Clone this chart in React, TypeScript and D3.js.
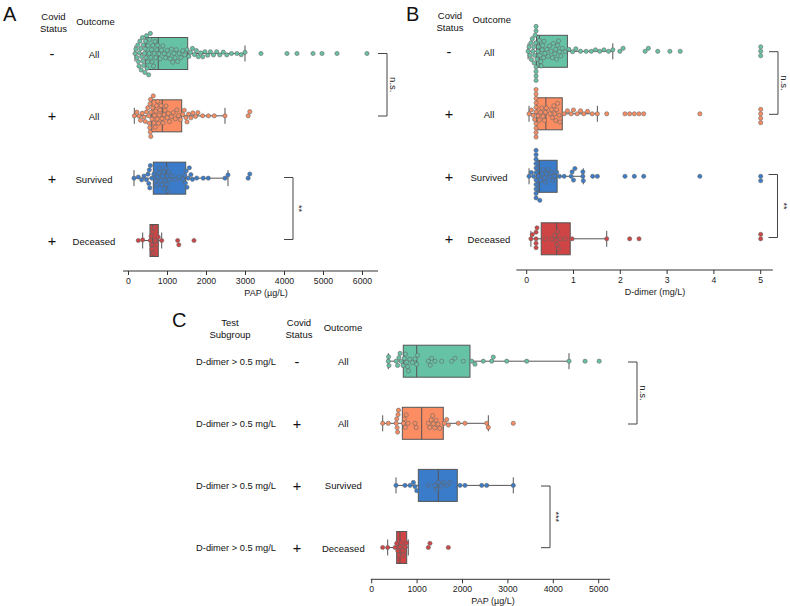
import React from 'react';
import * as d3 from 'd3';

// ---------- shared labels ----------
const rowKeys = ['negAll', 'posAll', 'posSurv', 'posDec'];
const rowSigns = ['-', '+', '+', '+'];
const rowOutcomes = ['All', 'All', 'Survived', 'Deceased'];
const rowColors = ['#66c2a5', '#fc8d62', '#3a7cc9', '#cf4545'];
const subgroupLabel = 'D-dimer > 0.5 mg/L';

// ---------- Panel A: PAP (µg/L) ----------
const papNegAll = [
  167, 190, 215, 238, 255, 268, 280, 292, 315, 326, 337, 358, 368, 378, 388, 410, 420, 430, 438,
  448, 462, 475, 490, 503, 517, 530, 545, 560, 575, 590, 606, 622, 640, 660, 680, 700, 725, 750,
  780, 810, 845, 880, 915, 950, 990, 1030, 1065, 1100, 1135, 1165, 1195, 1225, 1260, 1300, 1345, 1390, 1440, 1500,
  1545, 1590, 1640, 1690, 1740, 1790, 1850, 1905, 1960, 2030, 2100, 2180, 2260, 2340, 2430, 2520, 2640, 2780, 2890, 2987,
  3397, 4064, 4320, 4731, 4962, 5346, 6115,
];
const papPosAll = [
  149, 215, 268, 310, 352, 398, 430, 462, 495,
  520, 535, 545, 552, 558, 565, 572, 580,
  600, 618, 635, 652, 668, 685, 700, 718, 735, 752, 770, 790, 810, 835, 860, 885, 910, 935, 960, 990, 1020, 1050,
  1100, 1150, 1200, 1240, 1280, 1330,
  1390, 1430, 1470, 1500, 1540, 1600, 1650, 1720, 1780, 1900, 2050, 2200, 2474,
  3068, 3110,
];
const papPosSurv = [
  141, 251, 338, 397, 460, 500, 520, 533, 545, 560, 600,
  650, 690, 725, 750, 775, 800, 825, 850, 875, 900, 920, 940, 960, 975, 990, 1010, 1030, 1055,
  1120, 1200, 1300, 1400,
  1445, 1460, 1480, 1500, 1530, 1560, 1600, 1640,
  1749, 1918, 2046, 2474, 2551,
  3068, 3110,
];
const papPosDec = [251, 364, 560, 580, 595, 600, 610, 640, 660, 690, 720, 764, 851, 1260, 1290, 1679];
// [whisker low, Q1, median, Q3, whisker high]
const papStats = [
  [167, 441, 764, 1518, 2987],
  [149, 595, 867, 1364, 2474],
  [141, 636, 979, 1467, 2551],
  [364, 551, 620, 764, 851],
];
const papTicksA = [0, 1000, 2000, 3000, 4000, 5000, 6000];

// ---------- Panel B: D-dimer (mg/L) ----------
const ddNegAll = [
  0.03, 0.05, 0.07, 0.09, 0.1, 0.12, 0.13, 0.15, 0.16, 0.17, 0.18, 0.19,
  0.2, 0.2, 0.2, 0.2, 0.2, 0.2,
  0.22, 0.24, 0.25, 0.27, 0.28, 0.3, 0.31, 0.33, 0.34, 0.36, 0.37, 0.39,
  0.43, 0.46, 0.49, 0.52, 0.55, 0.57, 0.6, 0.62, 0.64, 0.66, 0.68, 0.7, 0.73, 0.76,
  0.82, 0.9, 0.98, 1.05, 1.15, 1.27, 1.38, 1.47, 1.56, 1.65, 1.75, 1.84,
  1.99, 2.06, 2.53, 2.6, 2.8, 3.06, 3.28, 5, 5, 5,
];
const ddPosAll = [
  0.05, 0.1, 0.14, 0.17,
  0.2, 0.2, 0.2, 0.2, 0.2, 0.2, 0.2, 0.2, 0.2, 0.2,
  0.24, 0.27, 0.3, 0.32, 0.35, 0.38, 0.4, 0.42,
  0.5, 0.53, 0.55, 0.58, 0.6, 0.62, 0.64, 0.66, 0.69, 0.71,
  0.8, 0.87, 0.95, 1.0, 1.08, 1.15, 1.22, 1.3, 1.4, 1.51,
  1.71, 2.1, 2.2, 2.3, 2.4, 2.5, 3.7, 5, 5, 5, 5,
];
const ddPosSurv = [
  0.05, 0.1, 0.15,
  0.2, 0.2, 0.2, 0.2, 0.2, 0.2, 0.2, 0.2, 0.2, 0.2, 0.2,
  0.25, 0.28, 0.3, 0.33, 0.35, 0.38, 0.4, 0.43, 0.46, 0.5, 0.53, 0.56, 0.6, 0.64,
  0.7, 0.8, 0.95, 0.97, 1.0, 1.03, 1.2, 1.2, 1.21,
  1.41, 1.51, 2.1, 2.3, 2.5, 3.7, 5, 5,
];
const ddPosDec = [0.09, 0.12, 0.2, 0.2, 0.2, 0.2, 0.22, 0.4, 0.54, 0.6, 0.63, 0.65, 0.66, 0.68, 0.72, 0.82, 0.97, 1.71, 2.2, 2.4, 5, 5];
const ddStats = [
  [0.03, 0.21, 0.27, 0.87, 1.84],
  [0.05, 0.21, 0.41, 0.76, 1.51],
  [0.05, 0.21, 0.27, 0.65, 1.21],
  [0.09, 0.31, 0.64, 0.93, 1.71],
];
const ddTicks = [0, 1, 2, 3, 4, 5];

// ---------- Panel C: PAP, D-dimer > 0.5 subgroup ----------
const papCNegAll = [
  366, 372, 380, 540, 570, 600, 625, 650, 690, 720, 745, 770, 790, 810, 840, 900, 955, 991, 1010,
  1247, 1290, 1321, 1394, 1542, 1762, 1835, 2018, 2203, 2275, 2458, 2643, 2679, 2974, 3414, 4346, 4700, 5010,
];
const papCPosAll = [
  242, 366, 540, 552, 560, 570, 580, 590, 700, 720, 740, 760, 800, 954, 980,
  1247, 1280, 1310, 1340, 1360, 1390, 1420, 1460, 1500, 1600, 1652, 1690, 1908, 2055, 2533, 2569, 3119,
];
const papCPosSurv = [535, 734, 845, 918, 954, 991, 1247, 1394, 1430, 1467, 1520, 1577, 1652, 1725, 1945, 2055, 2423, 2533, 3119];
const papCPosDec = [242, 352, 513, 550, 575, 600, 623, 650, 680, 700, 740, 771, 1247, 1283, 1688];
const papCStats = [
  [366, 696, 991, 2165, 4346],
  [242, 675, 1101, 1577, 2569],
  [535, 1027, 1467, 1885, 3119],
  [352, 550, 623, 771, 806],
];
const papTicksC = [0, 1000, 2000, 3000, 4000, 5000];

const FONT = '"Liberation Sans", Arial, Helvetica, sans-serif';
const R = 2.1;

function swarm(values: number[], x: (v: number) => number, r: number) {
  const d = 2 * r + 0.25;
  const pts = values.map((v) => ({ v, x: x(v), y: 0 })).sort((a, b) => a.x - b.x);
  const placed: { x: number; y: number }[] = [];
  pts.forEach((p, i) => {
    const near = placed.filter((q) => Math.abs(q.x - p.x) < d);
    const cands = [0];
    near.forEach((q) => {
      const dy = Math.sqrt(d * d - (q.x - p.x) ** 2);
      cands.push(q.y + dy, q.y - dy);
    });
    cands.sort((a, b) => Math.abs(a) - Math.abs(b) || (i % 2 ? a - b : b - a));
    for (const c of cands) {
      if (near.every((q) => (q.x - p.x) ** 2 + (q.y - c) ** 2 >= d * d - 1e-6)) {
        p.y = c;
        break;
      }
    }
    placed.push(p);
  });
  return pts;
}

type PanelProps = {
  data: number[][];
  stats: number[][];
  domain: [number, number];
  range: [number, number];
  rowRange: [number, number];
  axisY: number;
  axisExtent: [number, number];
  ticks: number[];
  axisLabel: string;
  axisLabelX: number;
};

function BoxSwarm(p: PanelProps) {
  const x = d3.scaleLinear().domain(p.domain).range(p.range);
  const y = d3.scalePoint<string>().domain(rowKeys).range(p.rowRange);
  const bh = 32;
  const fmt = d3.format('d');
  return (
    <g>
      {rowKeys.map((k, i) => {
        const [wl, q1, med, q3, wh] = p.stats[i];
        const cy = y(k) as number;
        const pts = swarm(p.data[i], x, R);
        return (
          <g key={k}>
            <line x1={x(wl)} x2={x(q1)} y1={cy} y2={cy} stroke="#555" strokeWidth={1} />
            <line x1={x(q3)} x2={x(wh)} y1={cy} y2={cy} stroke="#555" strokeWidth={1} />
            <line x1={x(wl)} x2={x(wl)} y1={cy - 8} y2={cy + 8} stroke="#555" strokeWidth={1} />
            <line x1={x(wh)} x2={x(wh)} y1={cy - 8} y2={cy + 8} stroke="#555" strokeWidth={1} />
            <rect x={x(q1)} y={cy - bh / 2} width={x(q3) - x(q1)} height={bh} fill={rowColors[i]} stroke="#555" strokeWidth={1} />
            <line x1={x(med)} x2={x(med)} y1={cy - bh / 2} y2={cy + bh / 2} stroke="#555" strokeWidth={1} />
            {pts.map((pt, j) => (
              <circle key={j} cx={pt.x} cy={cy + pt.y} r={R} fill={rowColors[i]} stroke="#666" strokeWidth={0.6} />
            ))}
          </g>
        );
      })}
      <line x1={x(p.axisExtent[0])} x2={x(p.axisExtent[1])} y1={p.axisY} y2={p.axisY} stroke="#333" strokeWidth={1} />
      {p.ticks.map((t) => (
        <g key={t}>
          <line x1={x(t)} x2={x(t)} y1={p.axisY} y2={p.axisY + 4} stroke="#333" strokeWidth={1} />
          <text x={x(t)} y={p.axisY + 13} textAnchor="middle" fontSize={8.7} fill="#222">
            {fmt(t)}
          </text>
        </g>
      ))}
      <text x={p.axisLabelX} y={p.axisY + 25} textAnchor="middle" fontSize={9} fill="#222">
        {p.axisLabel}
      </text>
    </g>
  );
}

function Bracket({ x, y1, y2, label, fs }: { x: number; y1: number; y2: number; label: string; fs: number }) {
  return (
    <g>
      <path d={`M${x - 9},${y1}H${x}V${y2}H${x - 9}`} fill="none" stroke="#444" strokeWidth={1} />
      <text
        x={x + 6}
        y={(y1 + y2) / 2}
        transform={`rotate(90 ${x + 6} ${(y1 + y2) / 2})`}
        textAnchor="middle"
        dominantBaseline="central"
        fontSize={fs}
        fill="#222"
      >
        {label}
      </text>
    </g>
  );
}

function RowLabels({ rowRange, signX, outX, dy, subX }: { rowRange: [number, number]; signX: number; outX: number; dy: number; subX?: number }) {
  const y = d3.scalePoint<string>().domain(rowKeys).range(rowRange);
  return (
    <g>
      {rowKeys.map((k, i) => {
        const cy = y(k) as number;
        return (
          <g key={k}>
            {subX !== undefined && (
              <text x={subX} y={cy + 3.5} textAnchor="middle" fontSize={9.3} fill="#111">
                {subgroupLabel}
              </text>
            )}
            <text x={signX} y={cy + 5.5} textAnchor="middle" fontSize={14.5} fill="#111">
              {rowSigns[i]}
            </text>
            <text x={outX} y={cy + dy} textAnchor="middle" fontSize={9.5} fill="#111">
              {rowOutcomes[i]}
            </text>
          </g>
        );
      })}
    </g>
  );
}

export default function App() {
  return (
    <svg width={790} height={606} style={{ position: 'absolute', left: 0, top: 0, fontFamily: FONT }}>
      <rect width={790} height={606} fill="#fff" />
      {/* Panel A */}
      <text x={3} y={21} fontSize={20} fill="#111">A</text>
      <text x={53.5} y={19.5} textAnchor="middle" fontSize={9.5} fill="#111">Covid</text>
      <text x={53.5} y={31.7} textAnchor="middle" fontSize={9.5} fill="#111">Status</text>
      <text x={95.5} y={24.5} textAnchor="middle" fontSize={9.5} fill="#111">Outcome</text>
      <RowLabels rowRange={[53.5, 240.5]} signX={52} outX={94} dy={4.5} />
      <BoxSwarm
        data={[papNegAll, papPosAll, papPosSurv, papPosDec]}
        stats={papStats}
        domain={[0, 6000]}
        range={[128.5, 362.5]}
        rowRange={[53.5, 240.5]}
        axisY={271}
        axisExtent={[-140, 6400]}
        ticks={papTicksA}
        axisLabel="PAP (µg/L)"
        axisLabelX={266}
      />
      <Bracket x={387} y1={53.5} y2={116} label="n.s." fs={9.5} />
      <Bracket x={293} y1={177.5} y2={239.5} label="**" fs={9} />

      {/* Panel B */}
      <text x={406} y={20.5} fontSize={20} fill="#111">B</text>
      <text x={450} y={18.5} textAnchor="middle" fontSize={9.5} fill="#111">Covid</text>
      <text x={450} y={30.5} textAnchor="middle" fontSize={9.5} fill="#111">Status</text>
      <text x={491.7} y={23} textAnchor="middle" fontSize={9.5} fill="#111">Outcome</text>
      <RowLabels rowRange={[51.3, 238.8]} signX={449} outX={489} dy={4.5} />
      <BoxSwarm
        data={[ddNegAll, ddPosAll, ddPosSurv, ddPosDec]}
        stats={ddStats}
        domain={[0, 5]}
        range={[526.7, 760.7]}
        rowRange={[51.3, 238.8]}
        axisY={270}
        axisExtent={[-0.22, 5.26]}
        ticks={ddTicks}
        axisLabel="D-dimer (mg/L)"
        axisLabelX={655}
      />
      <Bracket x={778} y1={51.7} y2={114.3} label="n.s." fs={9.5} />
      <Bracket x={777.5} y1={174.5} y2={237.5} label="**" fs={9} />

      {/* Panel C */}
      <text x={172} y={327} fontSize={20} fill="#111">C</text>
      <text x={230} y={326} textAnchor="middle" fontSize={9.5} fill="#111">Test</text>
      <text x={230} y={338} textAnchor="middle" fontSize={9.5} fill="#111">Subgroup</text>
      <text x={299} y={326} textAnchor="middle" fontSize={9.5} fill="#111">Covid</text>
      <text x={299} y={338} textAnchor="middle" fontSize={9.5} fill="#111">Status</text>
      <text x={343} y={331} textAnchor="middle" fontSize={9.5} fill="#111">Outcome</text>
      <RowLabels rowRange={[361.2, 547.5]} signX={297} outX={343.3} dy={4} subX={236} />
      <BoxSwarm
        data={[papCNegAll, papCPosAll, papCPosSurv, papCPosDec]}
        stats={papCStats}
        domain={[0, 5000]}
        range={[371.7, 598.7]}
        rowRange={[361.2, 547.5]}
        axisY={579.3}
        axisExtent={[-20, 5250]}
        ticks={papTicksC}
        axisLabel="PAP (µg/L)"
        axisLabelX={493}
      />
      <Bracket x={637} y1={362} y2={424} label="n.s." fs={9.5} />
      <Bracket x={550} y1={486} y2={547.7} label="***" fs={9} />
    </svg>
  );
}
